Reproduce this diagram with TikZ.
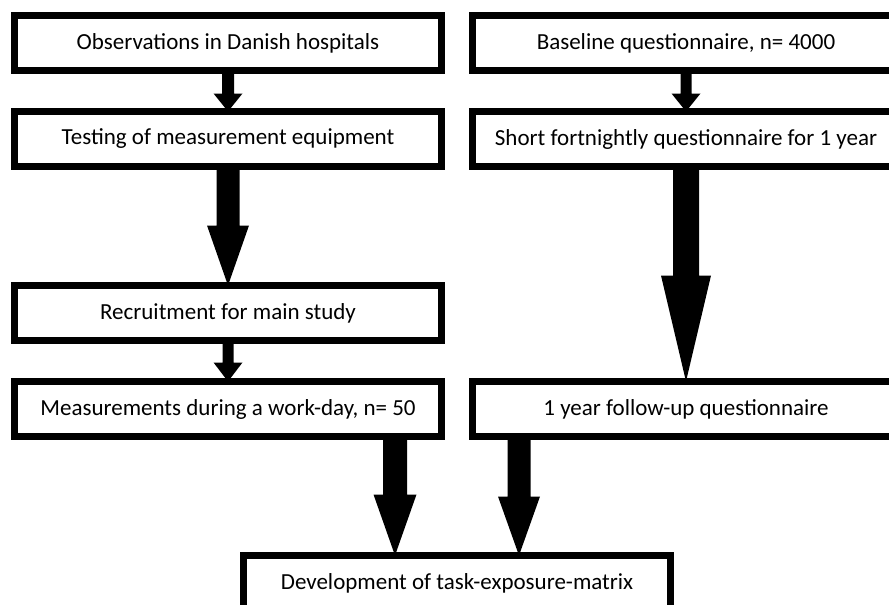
\documentclass[tikz,border=0pt]{standalone}
\usepackage{fontspec}
\setmainfont{Carlito}
\usepackage{tikz}
\usetikzlibrary{positioning,calc}

% filled block arrow: from, to, shaft width, head width, head length
\newcommand{\blockarrow}[5]{%
  \fill let \p1=(#1), \p2=(#2) in
    ({\x2-#3/2},\y1) -- ({\x2+#3/2},\y1) -- ({\x2+#3/2},{\y2+#5})
    -- ({\x2+#4/2},{\y2+#5}) -- (\x2,\y2) -- ({\x2-#4/2},{\y2+#5})
    -- ({\x2-#3/2},{\y2+#5}) -- cycle;
}

\begin{document}
\begin{tikzpicture}[x=1pt, y=1pt,
    node distance=41pt,
    box/.style={
      draw, line width=7pt, outer sep=0pt,
      minimum width=427pt, minimum height=55pt,
      font=\fontsize{23}{27}\selectfont, align=center
    }
  ]
  \useasboundingbox (0,0) rectangle (889,-605);

  % ===== Left column: measurement study =====
  \node[box] (obs) at (228,-43) {Observations in Danish hospitals};
  \node[box, below=of obs] (test) {Testing of measurement equipment};
  \node[box, below=119pt of test] (recr) {Recruitment for main study};
  \node[box, below=of recr] (meas) {Measurements during a work-day, n= 50};

  % ===== Right column: questionnaire study =====
  \node[box, right=31pt of obs] (base) {Baseline questionnaire, n= 4000};
  \node[box, below=of base] (fort) {Short fortnightly questionnaire for 1 year};
  \node[box] (follow) at (fort |- meas) {1 year follow-up questionnaire};

  % ===== Bottom: both columns meet =====
  \coordinate (mid) at ($(meas.south)!0.5!(follow.south)$);
  \node[box, below=119pt of mid] (dev) {Development of task-exposure-matrix};
  \coordinate (inL) at ([xshift=-62pt]dev.north);
  \coordinate (inR) at ([xshift=62pt]dev.north);

  % Block arrows
  \blockarrow{obs.south}{test.north}{12pt}{29pt}{18pt}
  \blockarrow{test.south}{recr.north}{23pt}{42pt}{60pt}
  \blockarrow{recr.south}{meas.north}{11pt}{29pt}{19pt}
  \blockarrow{base.south}{fort.north}{11pt}{29pt}{18pt}
  \blockarrow{fort.south}{follow.north}{26pt}{50pt}{106pt}
  \blockarrow{meas.south}{inL}{24pt}{43pt}{61pt}
  \blockarrow{follow.south}{inR}{23pt}{42pt}{59pt}

\end{tikzpicture}
\end{document}
